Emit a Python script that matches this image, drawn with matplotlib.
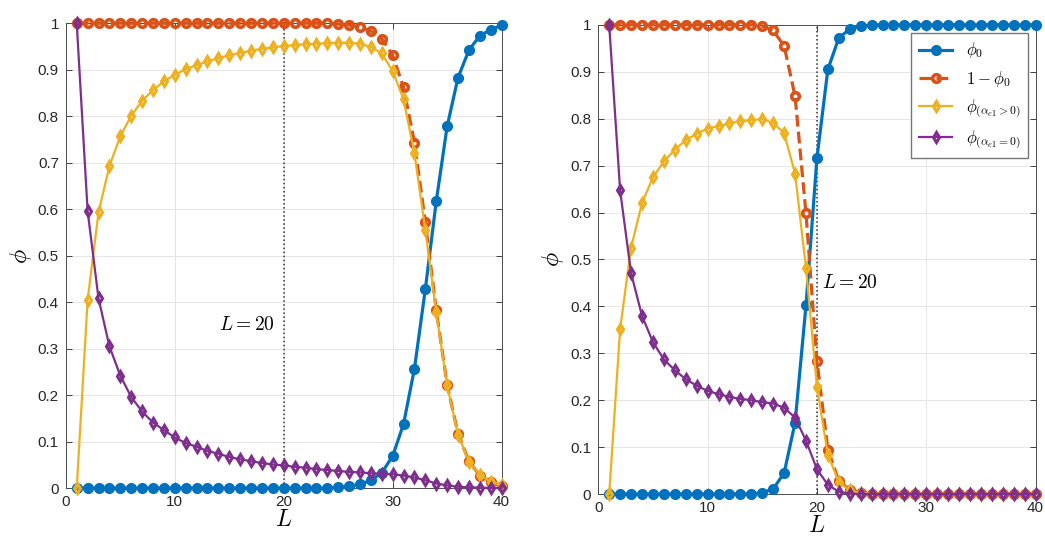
import numpy as np
import matplotlib
matplotlib.use("Agg")
import matplotlib.pyplot as plt

plt.rcParams['font.family'] = ['Liberation Sans', 'DejaVu Sans']
plt.rcParams['mathtext.fontset'] = 'cm'

L = np.arange(1, 41)

# left panel
left_phi0 = [0.0] * 24 + [0.002, 0.004, 0.008, 0.017, 0.033, 0.069, 0.138, 0.257,
                          0.428, 0.617, 0.778, 0.883, 0.942, 0.973, 0.986, 0.996]
left_one_minus = [1.0] * 24 + [0.998, 0.996, 0.992, 0.983, 0.967, 0.931, 0.862, 0.743,
                               0.572, 0.383, 0.222, 0.117, 0.058, 0.027, 0.014, 0.004]
left_pos = [0.0, 0.405, 0.593, 0.693, 0.757, 0.801, 0.833, 0.856, 0.875, 0.889,
            0.901, 0.910, 0.918, 0.925, 0.931, 0.936, 0.941, 0.945, 0.948, 0.951,
            0.953, 0.955, 0.956, 0.957, 0.958, 0.958, 0.956, 0.949, 0.935, 0.897,
            0.836, 0.720, 0.555, 0.379, 0.221, 0.115, 0.057, 0.028, 0.014, 0.006]
left_zero = [1.0, 0.596, 0.408, 0.305, 0.242, 0.196, 0.165, 0.141, 0.125, 0.109,
             0.097, 0.089, 0.080, 0.074, 0.067, 0.062, 0.058, 0.054, 0.051, 0.049,
             0.046, 0.044, 0.041, 0.039, 0.037, 0.035, 0.034, 0.032, 0.031, 0.030,
             0.027, 0.023, 0.017, 0.010, 0.006, 0.003, 0.002, 0.001, 0.0005, 0.0]

# right panel
right_phi0 = [0.0] * 14 + [0.003, 0.011, 0.045, 0.152, 0.402, 0.716, 0.905, 0.972,
                           0.991, 0.997, 0.999] + [1.0] * 15
right_one_minus = [1.0] * 14 + [0.997, 0.988, 0.955, 0.848, 0.598, 0.284, 0.095, 0.028,
                                0.009, 0.003, 0.001] + [0.0] * 15
right_pos = [0.0, 0.352, 0.525, 0.620, 0.675, 0.709, 0.734, 0.754, 0.768, 0.779,
             0.784, 0.790, 0.795, 0.797, 0.799, 0.791, 0.769, 0.683, 0.482, 0.229,
             0.084, 0.026, 0.008, 0.002, 0.001] + [0.0] * 15
right_zero = [1.0, 0.647, 0.471, 0.380, 0.324, 0.287, 0.264, 0.245, 0.231, 0.220,
              0.213, 0.207, 0.203, 0.200, 0.196, 0.193, 0.184, 0.163, 0.114, 0.053,
              0.020, 0.005, 0.001] + [0.0] * 17

labels = [r'$\phi_0$', r'$1-\phi_0$', r'$\phi_{(\alpha_{e1}>0)}$', r'$\phi_{(\alpha_{e1}=0)}$']
colors = ['#0072BD', '#D95319', '#EDB120', '#7E2F8E']
L_mark = 20

fig = plt.figure(figsize=(10.45, 5.4), dpi=100)
ax1 = fig.add_axes([0.063, 0.096, 0.417, 0.861])
ax2 = fig.add_axes([0.5725, 0.085, 0.4185, 0.869])


def draw(ax, phi0, one_minus, pos, zero):
    ax.plot(L, phi0, '-o', color=colors[0], lw=2.3, ms=6.5, mfc=colors[0],
            mew=1.5, label=labels[0], clip_on=False, zorder=3)
    ax.plot(L, one_minus, '--o', color=colors[1], lw=2.3, ms=5.5, mfc='none',
            mew=2.6, label=labels[1], clip_on=False, zorder=4)
    ax.plot(L, pos, '-d', color=colors[2], lw=1.6, ms=5.5, mfc='none',
            mew=2.2, label=labels[2], clip_on=False, zorder=5)
    ax.plot(L, zero, '-d', color=colors[3], lw=1.6, ms=5.5, mfc='none',
            mew=2.2, label=labels[3], clip_on=False, zorder=6)
    ax.axvline(L_mark, color='#333333', ls=':', lw=1.1, zorder=2)

    ax.set_xlim(0, 40)
    ax.set_ylim(0, 1)
    ax.set_xticks([0, 10, 20, 30, 40])
    ax.set_yticks(np.arange(0, 1.01, 0.1))
    ax.set_yticklabels(['0', '0.1', '0.2', '0.3', '0.4', '0.5', '0.6', '0.7', '0.8', '0.9', '1'])
    ax.tick_params(direction='in', top=True, right=True, length=4, width=0.6,
                   labelsize=11, colors='#262626', pad=5)
    ax.grid(True, color='#e6e6e6', lw=0.7)
    ax.set_axisbelow(True)
    for s in ax.spines.values():
        s.set_color('#4d4d4d')
        s.set_linewidth(0.7)
    ax.set_xlabel(r'$L$', fontsize=17, labelpad=0)
    ax.set_ylabel(r'$\phi$', fontsize=17, labelpad=3)


draw(ax1, left_phi0, left_one_minus, left_pos, left_zero)
draw(ax2, right_phi0, right_one_minus, right_pos, right_zero)

ax1.text(19.2, 0.35, r'$L=20$', fontsize=14, ha='right', va='center')
ax2.text(20.5, 0.45, r'$L=20$', fontsize=14, ha='left', va='center')

ax2.legend(loc='upper right', bbox_to_anchor=(1028 / 1045, 1 - 33 / 540),
           bbox_transform=fig.transFigure, borderaxespad=0, fontsize=12,
           frameon=True, fancybox=False, edgecolor='#777777', framealpha=1,
           handlelength=2.0, labelspacing=0.5, borderpad=0.45)

fig.savefig('out.png', dpi=100)
